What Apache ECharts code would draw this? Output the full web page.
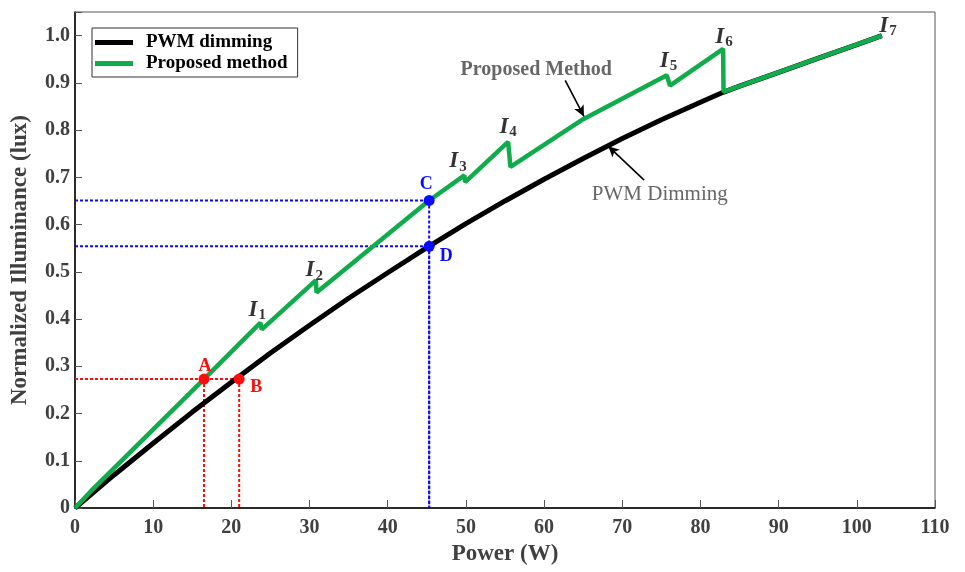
<!DOCTYPE html>
<html>
<head>
<meta charset="utf-8">
<script src="https://cdn.jsdelivr.net/npm/echarts@6/dist/echarts.min.js"></script>
<style>html,body{margin:0;padding:0;background:#fff}#c{width:965px;height:572px}</style>
</head>
<body>
<div id="c"></div>
<script>
// ---- data ----
const xTicks = [0, 10, 20, 30, 40, 50, 60, 70, 80, 90, 100, 110];
const yTicks = [0, 0.1, 0.2, 0.3, 0.4, 0.5, 0.6, 0.7, 0.8, 0.9, 1.0];

const pwmPower = [0, 5, 10, 15, 20, 25, 30, 35, 40, 45, 50, 55, 60, 65, 70, 75, 80, 82.9, 85, 90, 95, 100, 103.2];
const pwmLux   = [0, 0.070, 0.137, 0.203, 0.266, 0.328, 0.387, 0.444, 0.498, 0.551, 0.602, 0.650, 0.696, 0.740, 0.782, 0.822, 0.859, 0.880, 0.893, 0.922, 0.952, 0.981, 1.0];

const propPower = [0, 2, 16.5, 23.7, 23.9, 30.8, 30.9, 45.3, 49.8, 49.9, 55.4, 55.7, 65.0, 75.7, 76.1, 82.9, 82.95, 103.2];
const propLux   = [0, 0.035, 0.273, 0.392, 0.378, 0.482, 0.456, 0.651, 0.704, 0.690, 0.775, 0.722, 0.823, 0.916, 0.894, 0.972, 0.881, 1.0];

const pointNames = ['A', 'B', 'C', 'D'];
const pointPower = [16.5, 21.0, 45.3, 45.3];
const pointLux   = [0.273, 0.273, 0.651, 0.554];

const stepNames = ['1', '2', '3', '4', '5', '6', '7'];
const stepPower = [23.3, 30.6, 49.0, 55.4, 75.9, 83.0, 104.0];
const stepLux   = [0.419, 0.503, 0.734, 0.807, 0.947, 0.997, 1.021];

const noteTexts = ['Proposed Method', 'PWM Dimming'];
const notePower = [59.0, 74.8];
const noteLux   = [0.927, 0.664];
const arrowFrom = [[62.7, 0.905], [72.8, 0.694]];
const arrowTo   = [[65.1, 0.829], [68.2, 0.766]];

// ---- styles ----
const serif = '"Liberation Serif", "Times New Roman", serif';
const RED = '#ff0d0d', BLUE = '#0a0aff', GREEN = '#10ab4b', GRAY = '#404040';
const pointColors = [RED, RED, BLUE, BLUE];
const pointLabelOffsets = [[1, -13], [17, 8], [-3, -16], [17, 10]];

const chart = echarts.init(document.getElementById('c'));

const guideSeries = [];
pointNames.forEach((n, i) => {
  const c = pointColors[i];
  const st = {color: c, width: 2, type: [3, 2]};
  guideSeries.push({type: 'line', silent: true, symbol: 'none', z: 1, lineStyle: st,
    data: [[0, pointLux[i]], [pointPower[i], pointLux[i]]]});
  guideSeries.push({type: 'line', silent: true, symbol: 'none', z: 1, lineStyle: st,
    data: [[pointPower[i], pointLux[i]], [pointPower[i], 0]]});
});

const option = {
  animation: false,
  backgroundColor: '#fff',
  grid: {left: 75, right: 30, top: 12, bottom: 64, show: true, borderColor: '#555', borderWidth: 1},
  legend: {
    data: ['PWM dimming', 'Proposed method'],
    orient: 'vertical', left: 92, top: 28,
    backgroundColor: '#fff', borderColor: '#333', borderWidth: 1,
    padding: [5, 10, 4, 3], itemGap: 2,
    icon: 'rect', itemWidth: 38, itemHeight: 5,
    textStyle: {fontFamily: serif, fontWeight: 'bold', fontSize: 19, color: '#000', padding: [0, 0, 0, 8]}
  },
  xAxis: {
    type: 'value', min: 0, max: 110, interval: 10,
    name: 'Power (W)', nameLocation: 'middle', nameGap: 31,
    nameTextStyle: {fontFamily: serif, fontWeight: 'bold', fontSize: 23, color: GRAY},
    axisLine: {show: true, onZero: false, lineStyle: {color: '#000', width: 1.5}},
    axisTick: {show: true, inside: true, length: 8, lineStyle: {color: '#555'}},
    axisLabel: {fontFamily: serif, fontWeight: 'bold', fontSize: 20, color: GRAY, margin: 10,
      formatter: v => xTicks.includes(v) ? String(v) : ''},
    splitLine: {show: false}
  },
  yAxis: {
    type: 'value', min: 0, max: 1.05, interval: 0.1,
    name: 'Normalized Illuminance (lux)', nameLocation: 'middle', nameGap: 43,
    nameTextStyle: {fontFamily: serif, fontWeight: 'bold', fontSize: 23, color: GRAY},
    axisLine: {show: true, onZero: false, lineStyle: {color: '#000', width: 1.5}},
    axisTick: {show: true, inside: true, length: 7, lineStyle: {color: '#555'}},
    axisLabel: {fontFamily: serif, fontWeight: 'bold', fontSize: 20, color: GRAY, margin: 5,
      formatter: v => {
        const t = yTicks.find(t => Math.abs(t - v) < 1e-6);
        if (t === undefined) return '';
        return t === 0 ? '0' : t.toFixed(1);
      }},
    splitLine: {show: false}
  },
  series: [
    ...guideSeries,
    {name: 'PWM dimming', type: 'line', symbol: 'none', z: 3, color: '#000',
      lineStyle: {color: '#000', width: 5},
      data: pwmPower.map((x, i) => [x, pwmLux[i]])},
    {name: 'Proposed method', type: 'line', symbol: 'none', z: 4, color: GREEN,
      lineStyle: {color: GREEN, width: 4.5},
      data: propPower.map((x, i) => [x, propLux[i]])},
    {type: 'scatter', z: 6, symbolSize: 11, silent: true,
      data: pointNames.map((n, i) => ({
        value: [pointPower[i], pointLux[i]], name: n,
        itemStyle: {color: pointColors[i], opacity: 1},
        label: {show: true, formatter: n, position: 'inside', offset: pointLabelOffsets[i],
          color: pointColors[i], opacity: 1, fontFamily: serif, fontWeight: 'bold', fontSize: 18}
      }))},
    {type: 'scatter', z: 7, symbolSize: 0, silent: true,
      data: stepNames.map((n, i) => ({
        value: [stepPower[i], stepLux[i]],
        label: {show: true, position: 'inside', formatter: '{i|I}{s|' + n + '}',
          rich: {
            i: {fontFamily: serif, fontStyle: 'italic', fontWeight: 'bold', fontSize: 23, color: '#000', lineHeight: 26},
            s: {fontFamily: serif, fontWeight: 'bold', fontSize: 15, color: '#000', lineHeight: 26, verticalAlign: 'bottom', padding: [11, 0, 0, 1]}
          }}
      }))},
    {type: 'scatter', z: 7, symbolSize: 0, silent: true,
      data: noteTexts.map((t, i) => ({
        value: [notePower[i], noteLux[i]],
        label: {show: true, position: 'inside', formatter: t, color: GRAY, fontFamily: serif,
          fontWeight: i === 0 ? 'bold' : 'normal', fontSize: i === 0 ? 20 : 21}
      })),
      markLine: {
        silent: true, symbol: ['none', 'arrow'], symbolSize: [8, 11],
        label: {show: false},
        lineStyle: {color: '#000', width: 1.6, type: 'solid'},
        data: arrowFrom.map((f, i) => [{coord: f}, {coord: arrowTo[i]}])
      }}
  ]
};
chart.setOption(option);
</script>
</body>
</html>
